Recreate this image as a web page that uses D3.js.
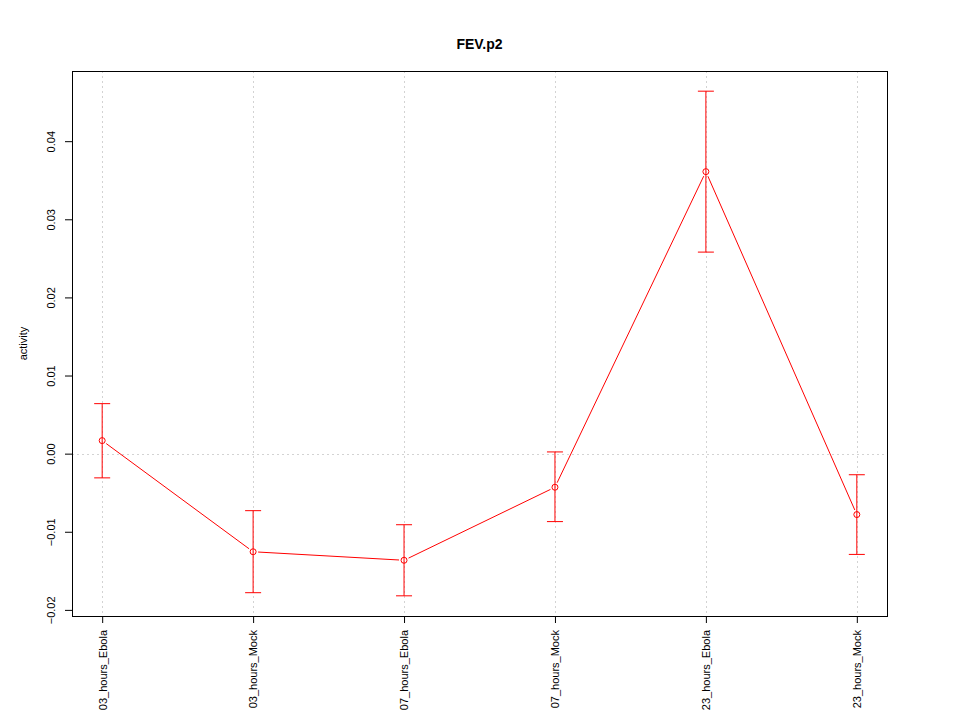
<!DOCTYPE html>
<html>
<head>
<meta charset="utf-8">
<script src="https://cdn.jsdelivr.net/npm/d3@7"></script>
<style>
  body { margin: 0; background: #fff; }
  text { font-family: "Liberation Sans", Arial, sans-serif; }
</style>
</head>
<body>
<div id="chart"></div>
<script>
// chart data
var categories = ["03_hours_Ebola", "03_hours_Mock", "07_hours_Ebola", "07_hours_Mock", "23_hours_Ebola", "23_hours_Mock"];
var activity = [0.00167, -0.01256, -0.01365, -0.0043, 0.03610, -0.00780];
var upper = [0.00640, -0.00730, -0.00910, 0.00022, 0.04640, -0.00270];
var lower = [-0.00310, -0.01780, -0.01820, -0.00870, 0.02580, -0.01290];
var yTicks = [-0.02, -0.01, 0.00, 0.01, 0.02, 0.03, 0.04];

var W = 960, H = 720;
var margin = { top: 71, right: 73, bottom: 104, left: 72 },
  width = W - margin.left - margin.right,
  height = H - margin.top - margin.bottom;

var svg = d3.select("#chart").append("svg")
  .attr("width", W)
  .attr("height", H);

var g = svg.append("g")
  .attr("transform", "translate(" + margin.left + "," + margin.top + ")");

// scales, padded 4% like R
var idx = categories.map(function (d, i) { return i + 1; });
var x = d3.scaleLinear().domain([0.8, 6.2]).range([0, width]);
var ymin = d3.min(lower), ymax = d3.max(upper), pad = (ymax - ymin) * 0.04;
var y = d3.scaleLinear().domain([ymin - pad, ymax + pad]).range([height, 0]);

// grid
g.selectAll(".vgrid").data(idx).enter().append("line")
  .attr("x1", function (d) { return Math.round(x(d)) + 0.5; })
  .attr("x2", function (d) { return Math.round(x(d)) + 0.5; })
  .attr("y1", 0).attr("y2", height)
  .attr("stroke", "#d3d3d3").attr("stroke-dasharray", "2,3");
g.append("line")
  .attr("x1", 0).attr("x2", width)
  .attr("y1", Math.round(y(0)) + 0.5).attr("y2", Math.round(y(0)) + 0.5)
  .attr("stroke", "#d3d3d3").attr("stroke-dasharray", "2,3");

// connecting line segments with gaps near points (type = "b")
var pts = idx.map(function (d, i) { return [x(d), y(activity[i])]; });
var gap = 5;
var segs = [];
for (var i = 0; i < pts.length - 1; i++) {
  var a = pts[i], b = pts[i + 1];
  var dx = b[0] - a[0], dy = b[1] - a[1], len = Math.sqrt(dx * dx + dy * dy);
  var ux = dx / len, uy = dy / len;
  segs.push([a[0] + ux * gap, a[1] + uy * gap, b[0] - ux * gap, b[1] - uy * gap]);
}
g.selectAll(".seg").data(segs).enter().append("line")
  .attr("x1", function (d) { return d[0]; })
  .attr("y1", function (d) { return d[1]; })
  .attr("x2", function (d) { return d[2]; })
  .attr("y2", function (d) { return d[3]; })
  .attr("stroke", "red").attr("stroke-width", 1);

// error bars
var cap = 8;
var eb = g.selectAll(".eb").data(idx).enter().append("g");
eb.append("line")
  .attr("x1", function (d) { return x(d); }).attr("x2", function (d) { return x(d); })
  .attr("y1", function (d, i) { return y(lower[i]); })
  .attr("y2", function (d, i) { return y(upper[i]); })
  .attr("stroke", "red");
eb.append("line")
  .attr("x1", function (d) { return x(d) - cap; }).attr("x2", function (d) { return x(d) + cap; })
  .attr("y1", function (d, i) { return y(upper[i]); })
  .attr("y2", function (d, i) { return y(upper[i]); })
  .attr("stroke", "red");
eb.append("line")
  .attr("x1", function (d) { return x(d) - cap; }).attr("x2", function (d) { return x(d) + cap; })
  .attr("y1", function (d, i) { return y(lower[i]); })
  .attr("y2", function (d, i) { return y(lower[i]); })
  .attr("stroke", "red");

// points
g.selectAll(".pt").data(idx).enter().append("circle")
  .attr("cx", function (d) { return x(d); })
  .attr("cy", function (d, i) { return y(activity[i]); })
  .attr("r", 3)
  .attr("fill", "none").attr("stroke", "red");

// box
g.append("rect")
  .attr("x", 0.5).attr("y", 0.5)
  .attr("width", width).attr("height", height)
  .attr("fill", "none").attr("stroke", "#000");

// y axis
var yAxis = g.append("g")
  .call(d3.axisLeft(y).tickValues(yTicks).tickSize(7).tickFormat(d3.format(".2f")));
yAxis.select(".domain").remove();
yAxis.selectAll(".tick text")
  .attr("font-size", 11).attr("fill", "#000")
  .attr("transform", "rotate(-90)")
  .attr("x", 0).attr("y", -17).attr("dy", 0)
  .attr("text-anchor", "middle");

// x axis
var xAxis = g.append("g")
  .attr("transform", "translate(0," + height + ")")
  .call(d3.axisBottom(x).tickValues(idx).tickSize(7).tickFormat(function (d) { return categories[d - 1]; }));
xAxis.select(".domain").remove();
xAxis.selectAll(".tick text")
  .attr("font-size", 11).attr("fill", "#000")
  .attr("transform", "rotate(-90)")
  .attr("x", -14).attr("y", 0).attr("dy", "0.35em")
  .attr("text-anchor", "end");

// title and label
svg.append("text")
  .attr("x", margin.left + width / 2).attr("y", 49)
  .attr("text-anchor", "middle")
  .attr("font-size", 14).attr("font-weight", "bold")
  .text("FEV.p2");
svg.append("text")
  .attr("transform", "translate(27," + (margin.top + height / 2) + ") rotate(-90)")
  .attr("text-anchor", "middle")
  .attr("font-size", 11)
  .text("activity");
</script>
</body>
</html>
